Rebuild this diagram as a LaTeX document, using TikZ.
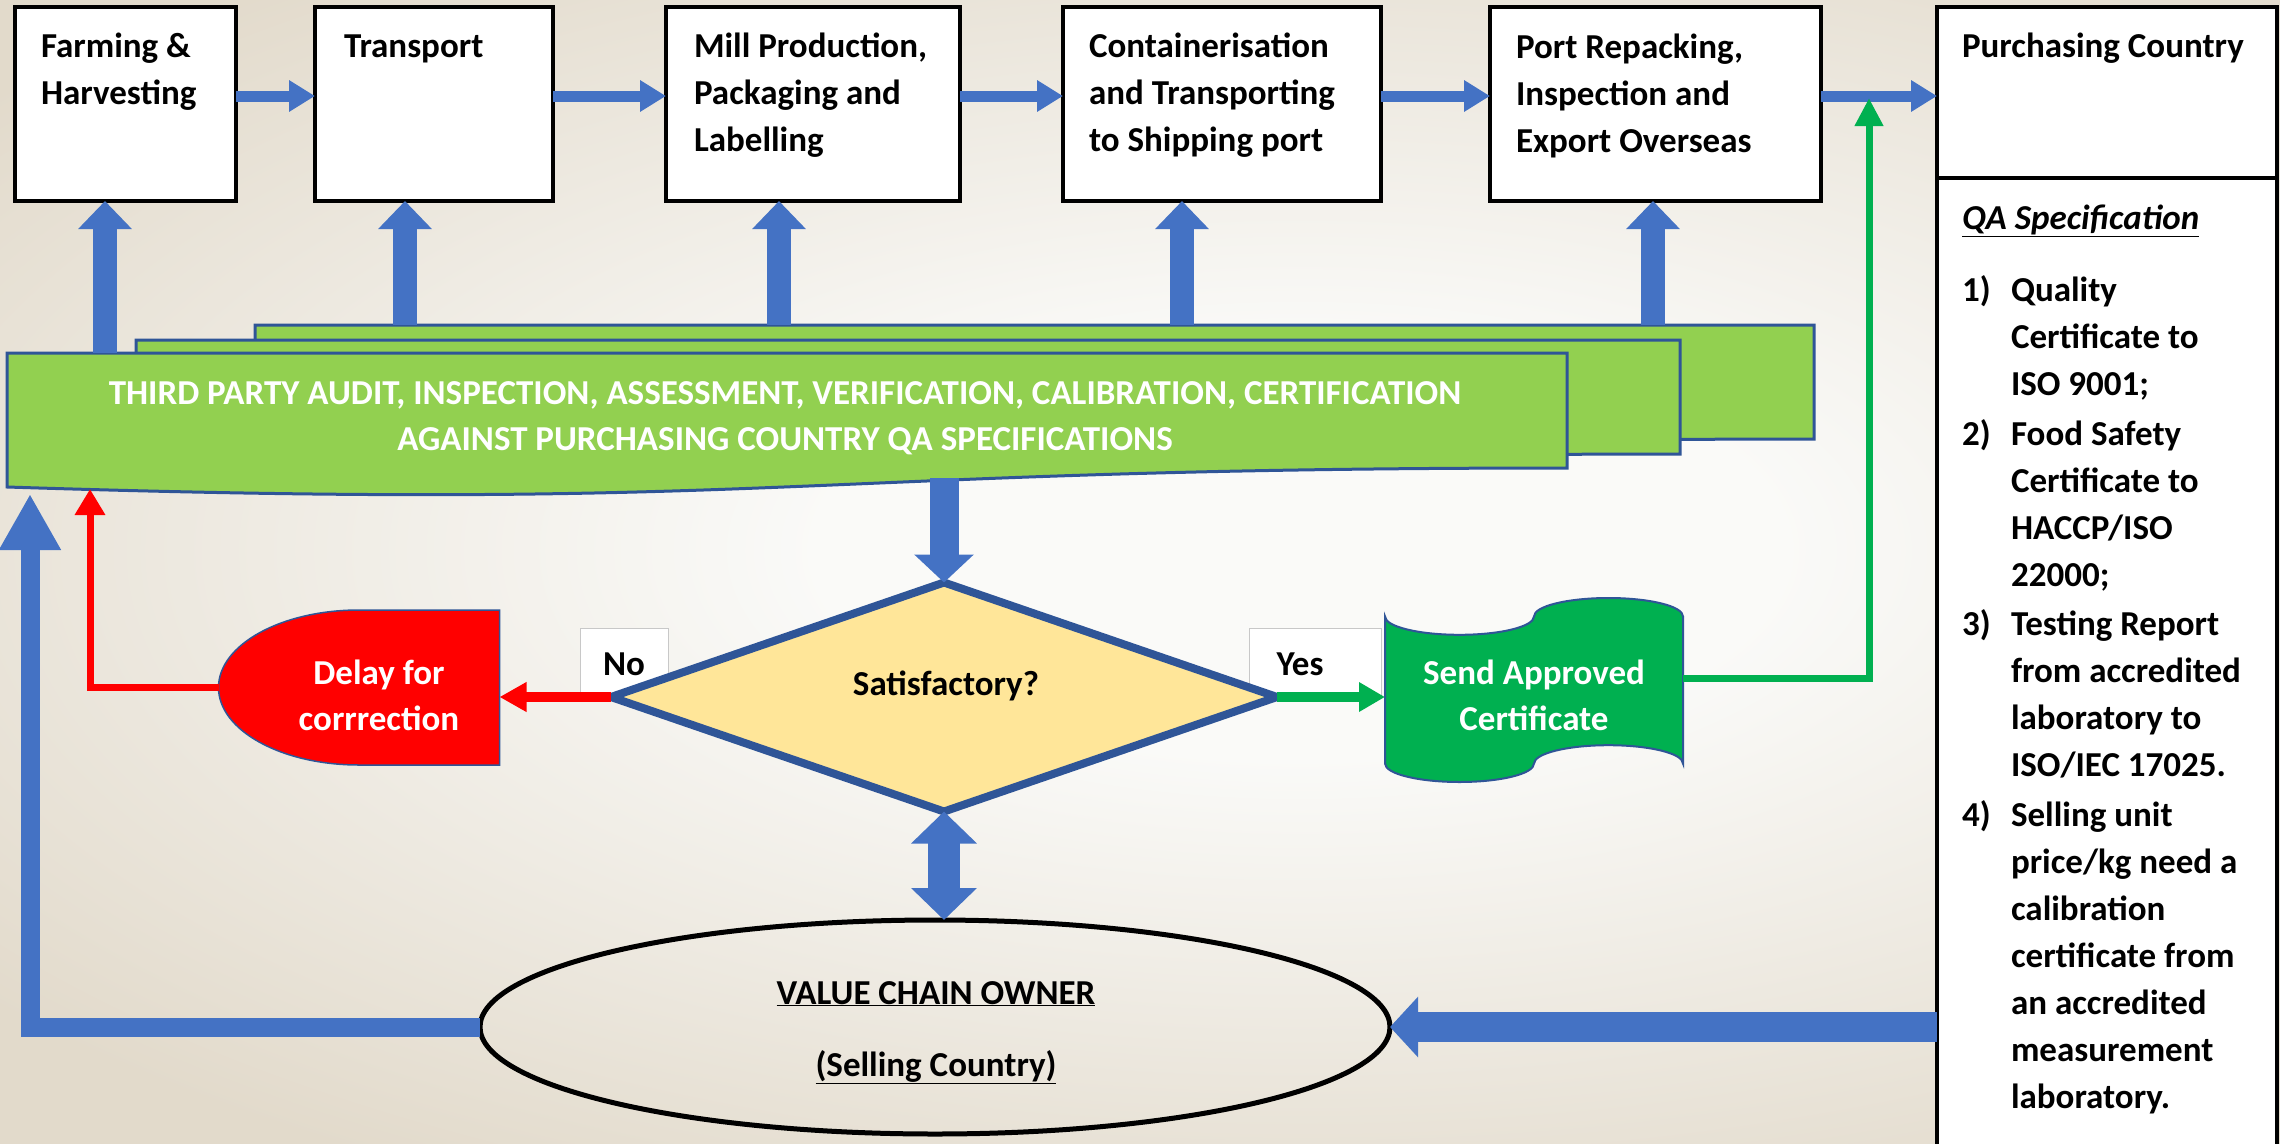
\documentclass[tikz,border=0pt]{standalone}
\usepackage{fontspec}
\setmainfont{Carlito}
\usetikzlibrary{arrows.meta,shapes.geometric,calc}

\definecolor{bgin}{HTML}{FAFAF8}
\definecolor{bgout}{HTML}{E2DACB}
\definecolor{arrblue}{HTML}{4472C4}
\definecolor{dkblue}{HTML}{2F5597}
\definecolor{bandgreen}{HTML}{92D050}
\definecolor{diafill}{HTML}{FFE699}
\definecolor{redc}{HTML}{FF0000}
\definecolor{greenc}{HTML}{00B050}
\definecolor{lblgray}{HTML}{C8C8C8}

\pgfdeclareradialshading{bgshade}{\pgfpoint{0bp}{0bp}}{color(0bp)=(bgin); color(8bp)=(bgin); color(28bp)=(bgout); color(50bp)=(bgout)}

\newcommand\mylinesL[1]{\vtop{\halign{##\hfil\cr#1\crcr}}}
\newcommand\mylinesC[1]{\vtop{\halign{\hfil##\hfil\cr#1\crcr}}}

\begin{document}
\begin{tikzpicture}[x=1pt, y=-1pt, line join=miter,
  every node/.style={inner sep=0pt, outer sep=0pt},
  txt/.style={font=\fontsize{35}{47}\selectfont\bfseries, text=black},
  wtxt/.style={font=\fontsize{35}{46}\selectfont\bfseries, text=white},
  procbox/.style={draw=black, line width=4pt, fill=white, minimum height=194pt},
  pbox/.style={draw=black, line width=4pt, fill=white, minimum width=340pt},
  lblbox/.style={draw=lblgray, line width=1pt, fill=white},
  doc/.style={fill=bandgreen, draw=dkblue, line width=3pt},
  harrow/.style={draw=arrblue, line width=11pt, -{Triangle[length=26pt, width=30pt]}},
  uparrow/.style={draw=arrblue, line width=24pt, -{Triangle[length=28pt, width=52pt]}},
  downarrow/.style={draw=arrblue, line width=29pt, -{Triangle[length=28pt, width=58pt]}},
  darrow/.style={draw=arrblue, line width=32pt, {Triangle[length=32pt, width=64pt]}-{Triangle[length=32pt, width=64pt]}},
  bigharrow/.style={draw=arrblue, line width=30pt, -{Triangle[length=28pt, width=59pt]}},
  leftarrow/.style={draw=arrblue, line width=19pt, -{Triangle[length=56pt, width=58pt]}},
  rarrow/.style={draw=redc, line width=10pt, -{Triangle[length=27pt, width=28pt]}},
  rline/.style={draw=redc, line width=7pt, -{Triangle[length=26pt, width=29pt]}},
  garrow/.style={draw=greenc, line width=10pt, -{Triangle[length=26pt, width=28pt]}},
  gline/.style={draw=greenc, line width=7pt, -{Triangle[length=28pt, width=27pt]}}
]
\useasboundingbox (0,0) rectangle (2280,1143);
\begin{scope}
  \clip (0,0) rectangle (2280,1143);
  \shade[shading=bgshade] (-200,-100) rectangle (2800,1200);
\end{scope}

% ---------- stacked third-party band (multi-document) ----------
\draw[doc] (255,325) -- (1814,325) -- (1814,439) .. controls (1034.5,439) and (1034.5,482) .. (255,458) -- cycle;
\draw[doc] (136,340) -- (1680,340) -- (1680,454) .. controls (908,454) and (908,497) .. (136,473) -- cycle;
\draw[doc] (7,353) -- (1567,353) -- (1567,468) .. controls (787,468) and (787,512) .. (7,487) -- cycle;
\node[wtxt, anchor=base] (bandt) at (785,404) {\mylinesC{THIRD PARTY AUDIT, INSPECTION, ASSESSMENT, VERIFICATION, CALIBRATION, CERTIFICATION\cr AGAINST PURCHASING COUNTRY QA SPECIFICATIONS}};

% ---------- process boxes ----------
\node[procbox, minimum width=221pt] (farm) at (125.5,104) {};
\node[procbox, minimum width=238pt] (trans) at (434,104) {};
\node[procbox, minimum width=294pt] (mill) at (813,104) {};
\node[procbox, minimum width=318pt] (cont) at (1222,104) {};
\node[procbox, minimum width=331pt] (port) at (1655.5,104) {};

\node[txt, anchor=base west] (farmt) at (41,57) {\mylinesL{Farming \&\cr Harvesting}};
\node[txt, anchor=base west] (transt) at (344,57) {Transport};
\node[txt, anchor=base west] (millt) at (694,57) {\mylinesL{Mill Production,\cr Packaging and\cr Labelling}};
\node[txt, anchor=base west] (contt) at (1089,57) {\mylinesL{Containerisation\cr and Transporting\cr to Shipping port}};
\node[txt, anchor=base west] (portt) at (1516,58) {\mylinesL{Port Repacking,\cr Inspection and\cr Export Overseas}};

% ---------- purchasing country ----------
\node[pbox, minimum height=173pt] (purch) at (2107,93.5) {};
\node[pbox, minimum height=982pt] (qa) at (2107,669) {};
\node[txt, anchor=base west] (purcht) at (1962,57) {Purchasing Country};
\node[txt, anchor=base west] (qah) at (1962,229) {\itshape\underline{QA Specification}};
\node[txt, anchor=base west] (q1n) at (1962,301) {1)};
\node[txt, anchor=base west] (q1) at (2011,301) {\mylinesL{Quality\cr Certificate to\cr ISO 9001;}};
\node[txt, anchor=base west] (q2n) at (1962,445) {2)};
\node[txt, anchor=base west] (q2) at (2011,445) {\mylinesL{Food Safety\cr Certificate to\cr HACCP/ISO\cr 22000;}};
\node[txt, anchor=base west] (q3n) at (1962,635) {3)};
\node[txt, anchor=base west] (q3) at (2011,635) {\mylinesL{Testing Report\cr from accredited\cr laboratory to\cr ISO/IEC 17025.}};
\node[txt, anchor=base west] (q4n) at (1962,826) {4)};
\node[txt, anchor=base west] (q4) at (2011,826) {\mylinesL{Selling unit\cr price/kg need a\cr calibration\cr certificate from\cr an accredited\cr measurement\cr laboratory.}};

% ---------- horizontal flow arrows ----------
\coordinate (a1) at ([yshift=8pt]farm.east);
\coordinate (a2) at ([yshift=8pt]trans.east);
\coordinate (a3) at ([yshift=8pt]mill.east);
\coordinate (a4) at ([yshift=8pt]cont.east);
\coordinate (a5) at ([yshift=8pt]port.east);
\draw[harrow] (a1) -- (a1 -| trans.west);
\draw[harrow] (a2) -- (a2 -| mill.west);
\draw[harrow] (a3) -- (a3 -| cont.west);
\draw[harrow] (a4) -- (a4 -| port.west);
\draw[harrow] (a5) -- (a5 -| purch.west);

% ---------- up arrows from band ----------
\coordinate (u1) at (105,353);
\coordinate (u2) at (405,325);
\coordinate (u3) at (779,325);
\coordinate (u4) at (1182,325);
\coordinate (u5) at (1653,325);
\draw[uparrow] (u1) -- (u1 |- farm.south);
\draw[uparrow] (u2) -- (u2 |- trans.south);
\draw[uparrow] (u3) -- (u3 |- mill.south);
\draw[uparrow] (u4) -- (u4 |- cont.south);
\draw[uparrow] (u5) -- (u5 |- port.south);

% ---------- decision ----------
\node[lblbox, minimum width=88pt, minimum height=66pt] (no) at (624,661) {};
\node[lblbox, minimum width=132pt, minimum height=68pt] (yes) at (1315,662) {};
\node[txt, anchor=base] (not) at (624,675) {No};
\node[txt, anchor=base] (yest) at (1300,675) {Yes};

\node[diamond, draw=dkblue, line width=8pt, fill=diafill, minimum width=666pt, minimum height=229pt] (diam) at (944,697) {};
\node[txt, anchor=base] (diamt) at (946,695) {Satisfactory?};

\coordinate (bb) at (944,478);
\draw[downarrow] (bb) -- (diam.north);

% ---------- delay ----------
\node[minimum width=281pt, minimum height=155pt] (delay) at (359,687.5) {};
\draw[fill=redc, draw=dkblue, line width=1.5pt] (delay.north) -- (delay.north east) -- (delay.south east) -- (delay.south) arc[start angle=270, end angle=90, x radius=140.5pt, y radius=77.5pt] -- cycle;
\node[wtxt, anchor=base] (delayt) at (379,684) {\mylinesC{Delay for\cr corrrection}};
\draw[rarrow] (diam.west) -- (diam.west -| delay.east);
\coordinate (rtip) at (90,489);
\draw[rline] (delay.west) -| (rtip);

% ---------- certificate ----------
\node[minimum width=298pt, minimum height=184pt] (cert) at (1534,690) {};
\draw[fill=greenc, draw=dkblue, line width=2pt] ($(cert.north west)+(0,18.4)$) arc[start angle=180, end angle=360, x radius=74.5pt, y radius=18.4pt] arc[start angle=180, end angle=0, x radius=74.5pt, y radius=18.4pt] -- ($(cert.south east)+(0,-18.4)$) arc[start angle=0, end angle=180, x radius=74.5pt, y radius=18.4pt] arc[start angle=0, end angle=-180, x radius=74.5pt, y radius=18.4pt] -- cycle;
\node[wtxt, anchor=base] (certt) at (1534,684) {\mylinesC{Send Approved\cr Certificate}};
\draw[garrow] (diam.east) -- (diam.east -| cert.west);
\coordinate (gtip) at (1869,98);
\draw[gline] ([yshift=12pt]cert.east) -| (gtip);

% ---------- value chain owner ----------
\node[ellipse, draw=black, line width=5pt, minimum width=910pt, minimum height=214pt] (ell) at (935,1027) {};
\node[txt, anchor=base] (ellt) at (936,1004) {\vtop{\baselineskip=72pt\halign{\hfil#\hfil\cr\underline{VALUE CHAIN OWNER}\cr\underline{(Selling Country)}\crcr}}};
\draw[darrow] (diam.south) -- (diam.south |- ell.north);
\draw[bigharrow] (qa.west |- ell.east) -- (ell.east);
\coordinate (lcorner) at (30,1027);
\coordinate (ltip) at (30,494);
\draw[leftarrow] (ell.west) -- (lcorner) -- (ltip);
\end{tikzpicture}
\end{document}
